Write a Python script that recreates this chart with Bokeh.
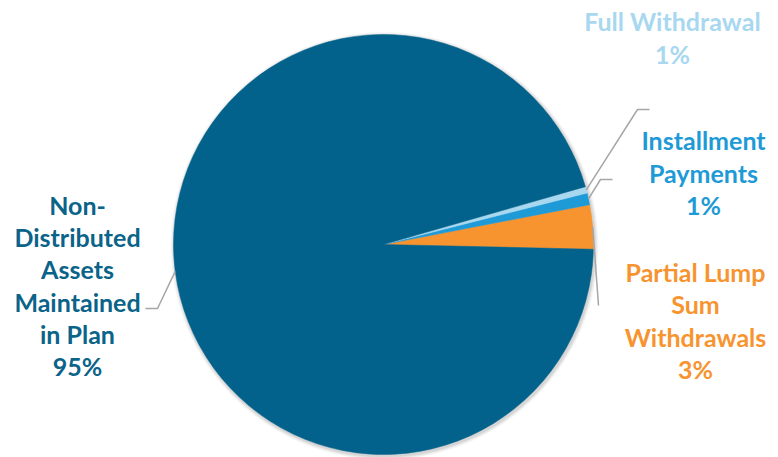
import math
from bokeh.plotting import figure
from bokeh.models import Range1d
from bokeh.core.properties import value
from bokeh.embed import file_html
from bokeh.resources import INLINE

# ---- data (counter-clockwise order starting just below 3 o'clock) ----
categories = ["Partial Lump Sum Withdrawals", "Installment Payments",
              "Full Withdrawal", "Non-Distributed Assets Maintained in Plan"]
shares = [3.4, 0.9, 0.5, 95.2]
label_texts = ["Partial Lump\nSum\nWithdrawals\n3%",
               "Installment\nPayments\n1%",
               "Full Withdrawal\n1%",
               "Non-\nDistributed\nAssets\nMaintained\nin Plan\n95%"]
colors = ["#F7942F", "#1E9AD6", "#A8D8F0", "#03628B"]
text_colors = ["#F7942F", "#1E9AD6", "#A8D8F0", "#0A6388"]

# ---- layout (picture pixel coords, y measured from top) ----
W, H = 778, 457
def Y(yimg):
    return H - yimg

cx, cy, R = 383, Y(244), 210
start_deg = -1.3

label_pos = [(695, 320), (703, 172), (672, 37), (77, 285)]
leaders = [[(598, 305)],
           [(600, 179), (612, 179)],
           [(637, 109), (649, 109)],
           [(157, 308), (145, 308)]]

p = figure(width=W, height=H, output_backend="svg", toolbar_location=None,
           x_range=Range1d(0, W), y_range=Range1d(0, H),
           min_border=0)
p.axis.visible = False
p.grid.visible = False
p.outline_line_color = None
p.background_fill_color = "white"

# soft shadow
for i, a in enumerate([0.05, 0.05, 0.04, 0.03]):
    p.circle(x=[cx + 1], y=[cy - 1.5], radius=R + 1 + i, fill_color="#000000",
             fill_alpha=a, line_color=None)

total = sum(shares)
ang = start_deg
mids = []
for v, c in zip(shares, colors):
    a0 = ang
    a1 = ang + v / total * 360.0
    p.wedge(x=[cx], y=[cy], radius=R, start_angle=math.radians(a0),
            end_angle=math.radians(a1), fill_color=c, line_color=c, line_width=0.5)
    mids.append((a0 + a1) / 2)
    ang = a1

for m, pts in zip(mids, leaders):
    xs = [cx + R * math.cos(math.radians(m))]
    ys = [cy + R * math.sin(math.radians(m))]
    for (px, py) in pts:
        xs.append(px)
        ys.append(Y(py))
    p.line(xs, ys, line_color="#A6A6A6", line_width=1.5)

for t, (lx, ly), tc in zip(label_texts, label_pos, text_colors):
    p.text(x=[lx], y=[Y(ly)], text=[t], text_align="center", text_baseline="middle",
           text_font=value("Lato"), text_font_style="bold", text_font_size="25px",
           text_line_height=1.075, text_color=tc)

open("out.html", "w").write(file_html(p, INLINE))
